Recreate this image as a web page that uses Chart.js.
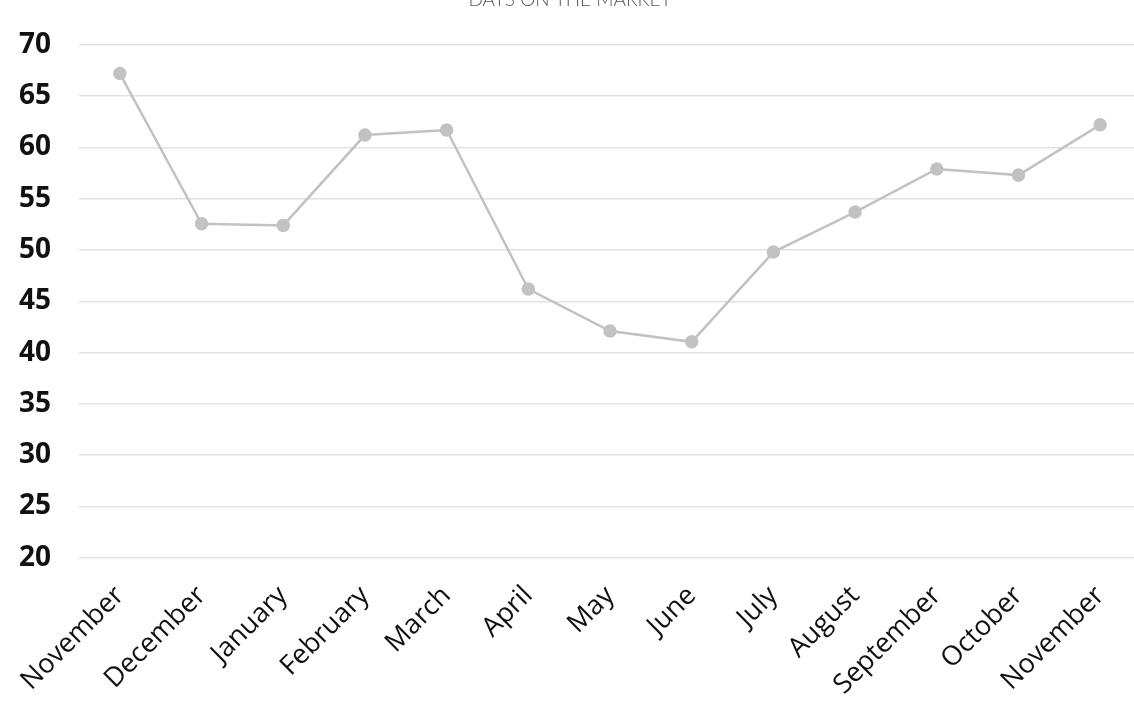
<!DOCTYPE html>
<html>
<head>
  <title>Days on the Market</title>
  <script src="https://cdn.jsdelivr.net/npm/chart.js"></script>
  <style>
    html, body { margin: 0; padding: 0; background: #fff; overflow: hidden; }
    #wrap { position: relative; width: 1158px; height: 735px; margin-top: -16px; margin-left: -9px; }
  </style>
</head>
<body>
  <div id="wrap"><canvas id="domChart"></canvas></div>
  <script>
    const months = ['November', 'December', 'January', 'February', 'March', 'April', 'May',
                    'June', 'July', 'August', 'September', 'October', 'November'];
    const days = [67.2, 52.55, 52.4, 61.2, 61.7, 46.2, 42.1, 41.05, 49.8, 53.7, 57.9, 57.3, 62.2];
    const yTicks = [20, 25, 30, 35, 40, 45, 50, 55, 60, 65, 70];

    new Chart(document.getElementById('domChart'), {
      type: 'line',
      data: {
        labels: months,
        datasets: [{
          label: 'Days on the market',
          data: days,
          borderColor: '#c2c2c2',
          backgroundColor: '#c2c2c2',
          borderWidth: 2.5,
          pointRadius: 5.5,
          pointHoverRadius: 5.5,
          tension: 0
        }]
      },
      options: {
        responsive: true,
        maintainAspectRatio: false,
        animation: false,
        layout: { padding: { left: 0, top: 0, right: 0, bottom: 4 } },
        plugins: {
          legend: { display: false },
          tooltip: { enabled: false },
          title: {
            display: true,
            text: 'DAYS ON THE MARKET',
            color: '#555',
            font: { family: 'Lato', size: 19, weight: 300 },
            padding: { top: 4, bottom: 34 }
          }
        },
        scales: {
          x: {
            offset: true,
            grid: { display: false },
            border: { display: false },
            ticks: {
              color: '#111',
              font: { family: 'Open Sans', size: 27 },
              maxRotation: 45,
              minRotation: 45,
              padding: 14
            }
          },
          y: {
            min: 20,
            max: 70,
            afterBuildTicks: axis => { axis.ticks = yTicks.map(v => ({ value: v })); },
            grid: { color: '#e2e2e2', lineWidth: 1.5, drawTicks: false },
            border: { display: false },
            ticks: {
              color: '#111',
              font: { family: 'Open Sans', size: 28, weight: 'bold' },
              padding: 28
            }
          }
        }
      }
    });
  </script>
</body>
</html>
